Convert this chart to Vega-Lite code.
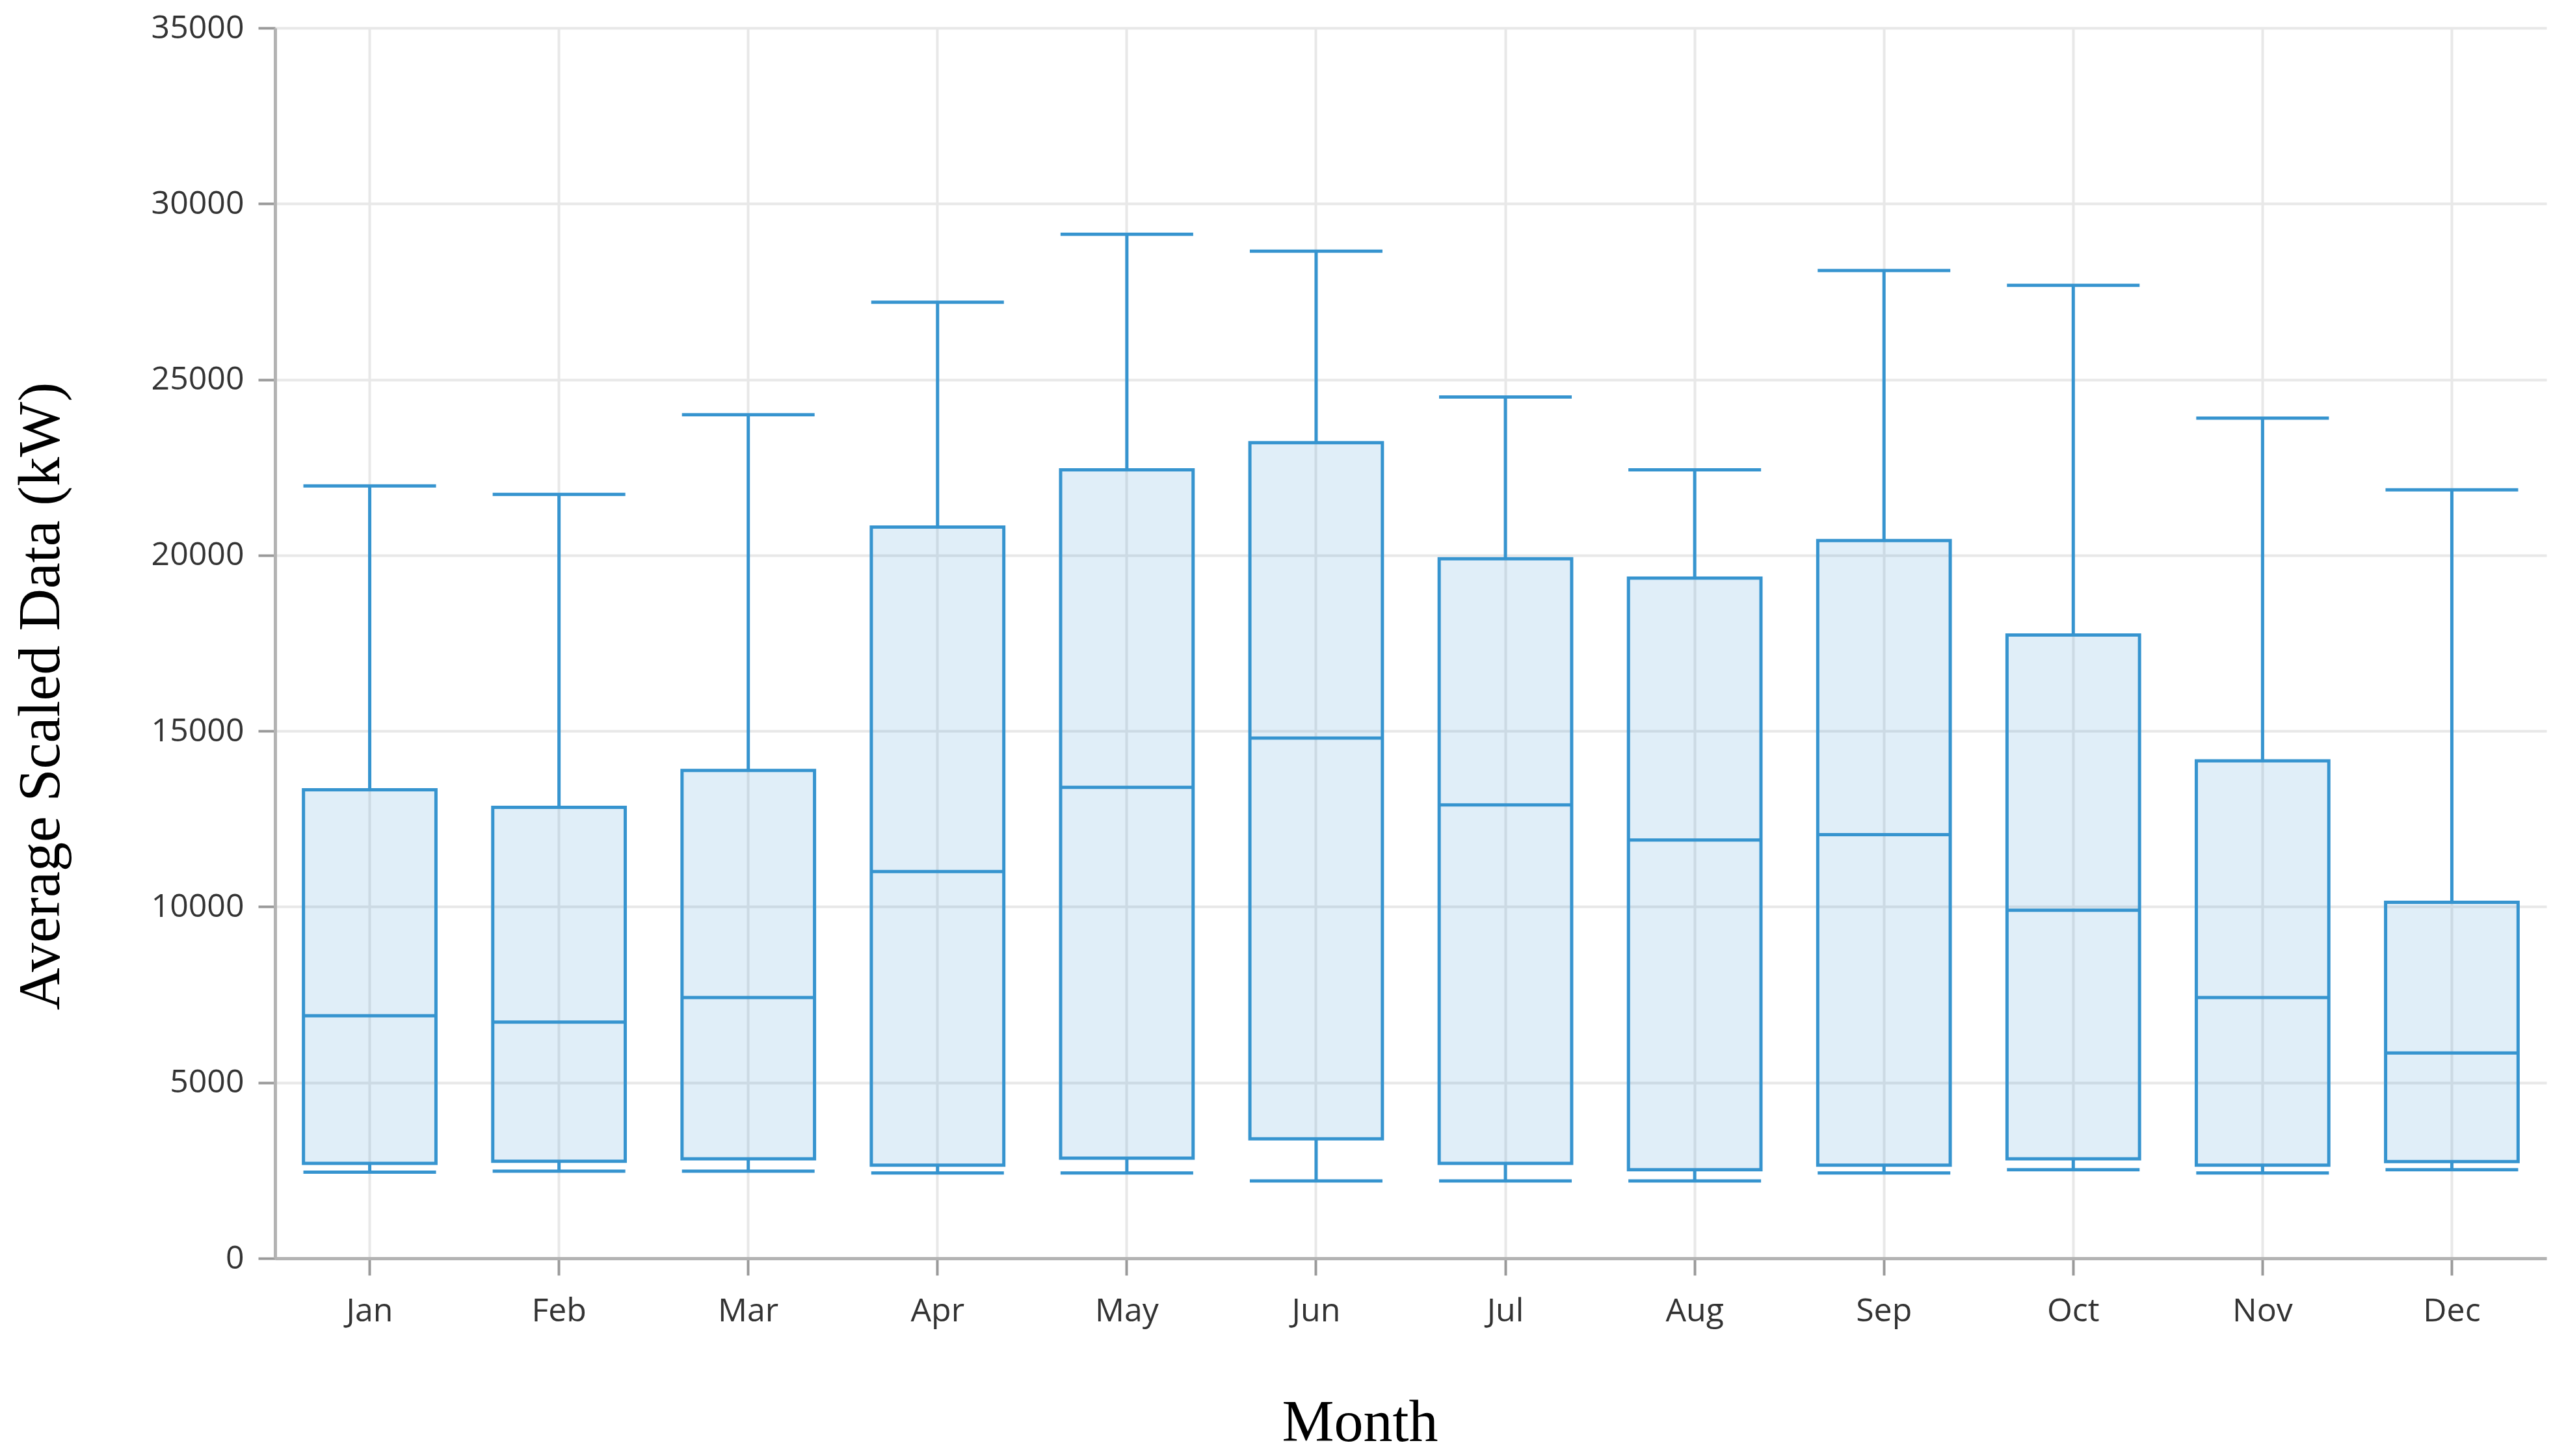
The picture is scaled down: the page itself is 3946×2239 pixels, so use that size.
{
  "$schema": "https://vega.github.io/schema/vega-lite/v6.json",
  "width": 3493,
  "height": 1892,
  "autosize": {"type": "none"},
  "padding": {"left": 423, "top": 43, "right": 30, "bottom": 304},
  "background": "white",
  "data": {
    "values": [
      {"month": "Jan", "low": 2450, "q1": 2700, "median": 6900, "q3": 13330, "high": 21970},
      {"month": "Feb", "low": 2480, "q1": 2760, "median": 6720, "q3": 12830, "high": 21730},
      {"month": "Mar", "low": 2480, "q1": 2830, "median": 7420, "q3": 13880, "high": 24000},
      {"month": "Apr", "low": 2430, "q1": 2650, "median": 11000, "q3": 20800, "high": 27200},
      {"month": "May", "low": 2430, "q1": 2850, "median": 13400, "q3": 22430, "high": 29130},
      {"month": "Jun", "low": 2200, "q1": 3400, "median": 14800, "q3": 23200, "high": 28650},
      {"month": "Jul", "low": 2200, "q1": 2700, "median": 12900, "q3": 19900, "high": 24500},
      {"month": "Aug", "low": 2200, "q1": 2520, "median": 11900, "q3": 19350, "high": 22430},
      {"month": "Sep", "low": 2430, "q1": 2650, "median": 12050, "q3": 20420, "high": 28100},
      {"month": "Oct", "low": 2520, "q1": 2830, "median": 9900, "q3": 17730, "high": 27680},
      {"month": "Nov", "low": 2430, "q1": 2650, "median": 7420, "q3": 14150, "high": 23900},
      {"month": "Dec", "low": 2520, "q1": 2750, "median": 5840, "q3": 10130, "high": 21860}
    ]
  },
  "encoding": {
    "x": {
      "field": "month",
      "type": "nominal",
      "sort": null,
      "title": "Month",
      "scale": {"paddingInner": 0, "paddingOuter": 0},
      "axis": {"grid": true, "labelAngle": 0}
    }
  },
  "layer": [
    {
      "mark": {"type": "rule", "color": "#3694cf", "strokeWidth": 5},
      "encoding": {
        "y": {"field": "low", "type": "quantitative", "title": "Average Scaled Data (kW)", "scale": {"domain": [0, 35000], "nice": false, "zero": true}, "axis": {"values": [0, 5000, 10000, 15000, 20000, 25000, 30000, 35000], "format": "d"}},
        "y2": {"field": "q1"}
      }
    },
    {
      "mark": {"type": "rule", "color": "#3694cf", "strokeWidth": 5},
      "encoding": {
        "y": {"field": "q3", "type": "quantitative", "title": "Average Scaled Data (kW)", "axis": {"values": [0, 5000, 10000, 15000, 20000, 25000, 30000, 35000], "format": "d"}},
        "y2": {"field": "high"}
      }
    },
    {
      "mark": {"type": "bar", "fill": "#2f8fd0", "fillOpacity": 0.15, "stroke": "#3694cf", "strokeWidth": 5, "width": {"band": 0.7}},
      "encoding": {
        "y": {"field": "q1", "type": "quantitative", "title": "Average Scaled Data (kW)", "axis": {"values": [0, 5000, 10000, 15000, 20000, 25000, 30000, 35000], "format": "d"}},
        "y2": {"field": "q3"}
      }
    },
    {
      "mark": {"type": "tick", "color": "#3694cf", "thickness": 5, "size": 204, "opacity": 1},
      "encoding": {"y": {"field": "median", "type": "quantitative", "title": "Average Scaled Data (kW)", "axis": {"values": [0, 5000, 10000, 15000, 20000, 25000, 30000, 35000], "format": "d"}}}
    },
    {
      "mark": {"type": "tick", "color": "#3694cf", "thickness": 5, "size": 204, "opacity": 1},
      "encoding": {"y": {"field": "low", "type": "quantitative", "title": "Average Scaled Data (kW)", "axis": {"values": [0, 5000, 10000, 15000, 20000, 25000, 30000, 35000], "format": "d"}}}
    },
    {
      "mark": {"type": "tick", "color": "#3694cf", "thickness": 5, "size": 204, "opacity": 1},
      "encoding": {"y": {"field": "high", "type": "quantitative", "title": "Average Scaled Data (kW)", "axis": {"values": [0, 5000, 10000, 15000, 20000, 25000, 30000, 35000], "format": "d"}}}
    }
  ],
  "config": {
    "view": {"stroke": null},
    "axis": {
      "domainColor": "#b3b3b3",
      "domainWidth": 5,
      "gridColor": "#e8e8e8",
      "gridWidth": 4,
      "tickColor": "#9a9a9a",
      "tickWidth": 4,
      "tickSize": 26,
      "labelFont": "Segoe UI, Open Sans",
      "labelFontSize": 50,
      "labelColor": "#333333",
      "titleFont": "Palatino Linotype, Book Antiqua, Liberation Serif",
      "titleFontWeight": "normal",
      "titleColor": "#000000",
      "titleFontSize": 90
    },
    "axisY": {
      "labelPadding": 22,
      "titleAngle": -90,
      "titleBaseline": "middle",
      "titleAlign": "center",
      "titleX": -360,
      "titleY": 1027
    },
    "axisX": {
      "labelPadding": 30,
      "titleBaseline": "middle",
      "titleAlign": "center",
      "titleX": 1668,
      "titleY": 253
    }
  }
}
